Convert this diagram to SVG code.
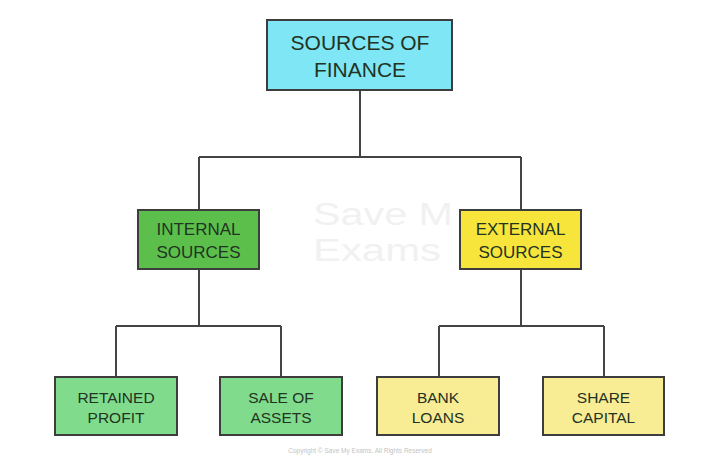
<svg xmlns="http://www.w3.org/2000/svg" width="720" height="463" viewBox="0 0 720 463">
<style>
.box{stroke:#3d3d3d;stroke-width:2}
.t{font-family:"Liberation Sans","Open Sans",sans-serif;fill:#223322;text-anchor:middle}
.l{fill:none;stroke:#444;stroke-width:2}
.wm{font-family:"Liberation Sans",sans-serif;fill:#f1f1f1;font-size:31px}
</style>
<rect width="720" height="463" fill="#ffffff"/>
<g id="watermark">
<text class="wm" x="313" y="225" textLength="140" lengthAdjust="spacingAndGlyphs">Save M</text>
<text class="wm" x="313" y="261" textLength="128" lengthAdjust="spacingAndGlyphs">Exams</text>
<text x="360" y="453" font-family="Liberation Sans,sans-serif" font-size="6.5" fill="#c4c4c4" text-anchor="middle">Copyright © Save My Exams. All Rights Reserved</text>
</g>
<g id="connectors">
<path class="l" d="M360,90 V157 M199,157 H521 M199,157 V210 M521,157 V210"/>
<path class="l" d="M199,269 V326 M116,326 H281 M116,326 V377 M281,326 V377"/>
<path class="l" d="M521,269 V326 M439,326 H604 M439,326 V377 M604,326 V377"/>
</g>
<g id="sources-of-finance">
<rect class="box" x="267" y="20" width="185" height="70" fill="#7fe6f6"/>
<text class="t" x="360" y="50" font-size="21">SOURCES OF</text>
<text class="t" x="360" y="77" font-size="21">FINANCE</text>
</g>
<g id="internal-sources">
<rect class="box" x="138" y="210" width="121" height="59" fill="#5cbf4c"/>
<text class="t" x="198.5" y="235" font-size="17">INTERNAL</text>
<text class="t" x="198.5" y="258" font-size="17">SOURCES</text>
</g>
<g id="external-sources">
<rect class="box" x="460" y="210" width="121" height="59" fill="#f8e53c"/>
<text class="t" x="520.5" y="235" font-size="17">EXTERNAL</text>
<text class="t" x="520.5" y="258" font-size="17">SOURCES</text>
</g>
<g id="retained-profit">
<rect class="box" x="55" y="377" width="122" height="58" fill="#80db8c"/>
<text class="t" x="116" y="403" font-size="15.5">RETAINED</text>
<text class="t" x="116" y="423" font-size="15.5">PROFIT</text>
</g>
<g id="sale-of-assets">
<rect class="box" x="220" y="377" width="122" height="58" fill="#80db8c"/>
<text class="t" x="281" y="403" font-size="15.5">SALE OF</text>
<text class="t" x="281" y="423" font-size="15.5">ASSETS</text>
</g>
<g id="bank-loans">
<rect class="box" x="377" y="377" width="122" height="58" fill="#f8ec95"/>
<text class="t" x="438" y="403" font-size="15.5">BANK</text>
<text class="t" x="438" y="423" font-size="15.5">LOANS</text>
</g>
<g id="share-capital">
<rect class="box" x="543" y="377" width="121" height="58" fill="#f8ec95"/>
<text class="t" x="603.5" y="403" font-size="15.5">SHARE</text>
<text class="t" x="603.5" y="423" font-size="15.5">CAPITAL</text>
</g>
</svg>
